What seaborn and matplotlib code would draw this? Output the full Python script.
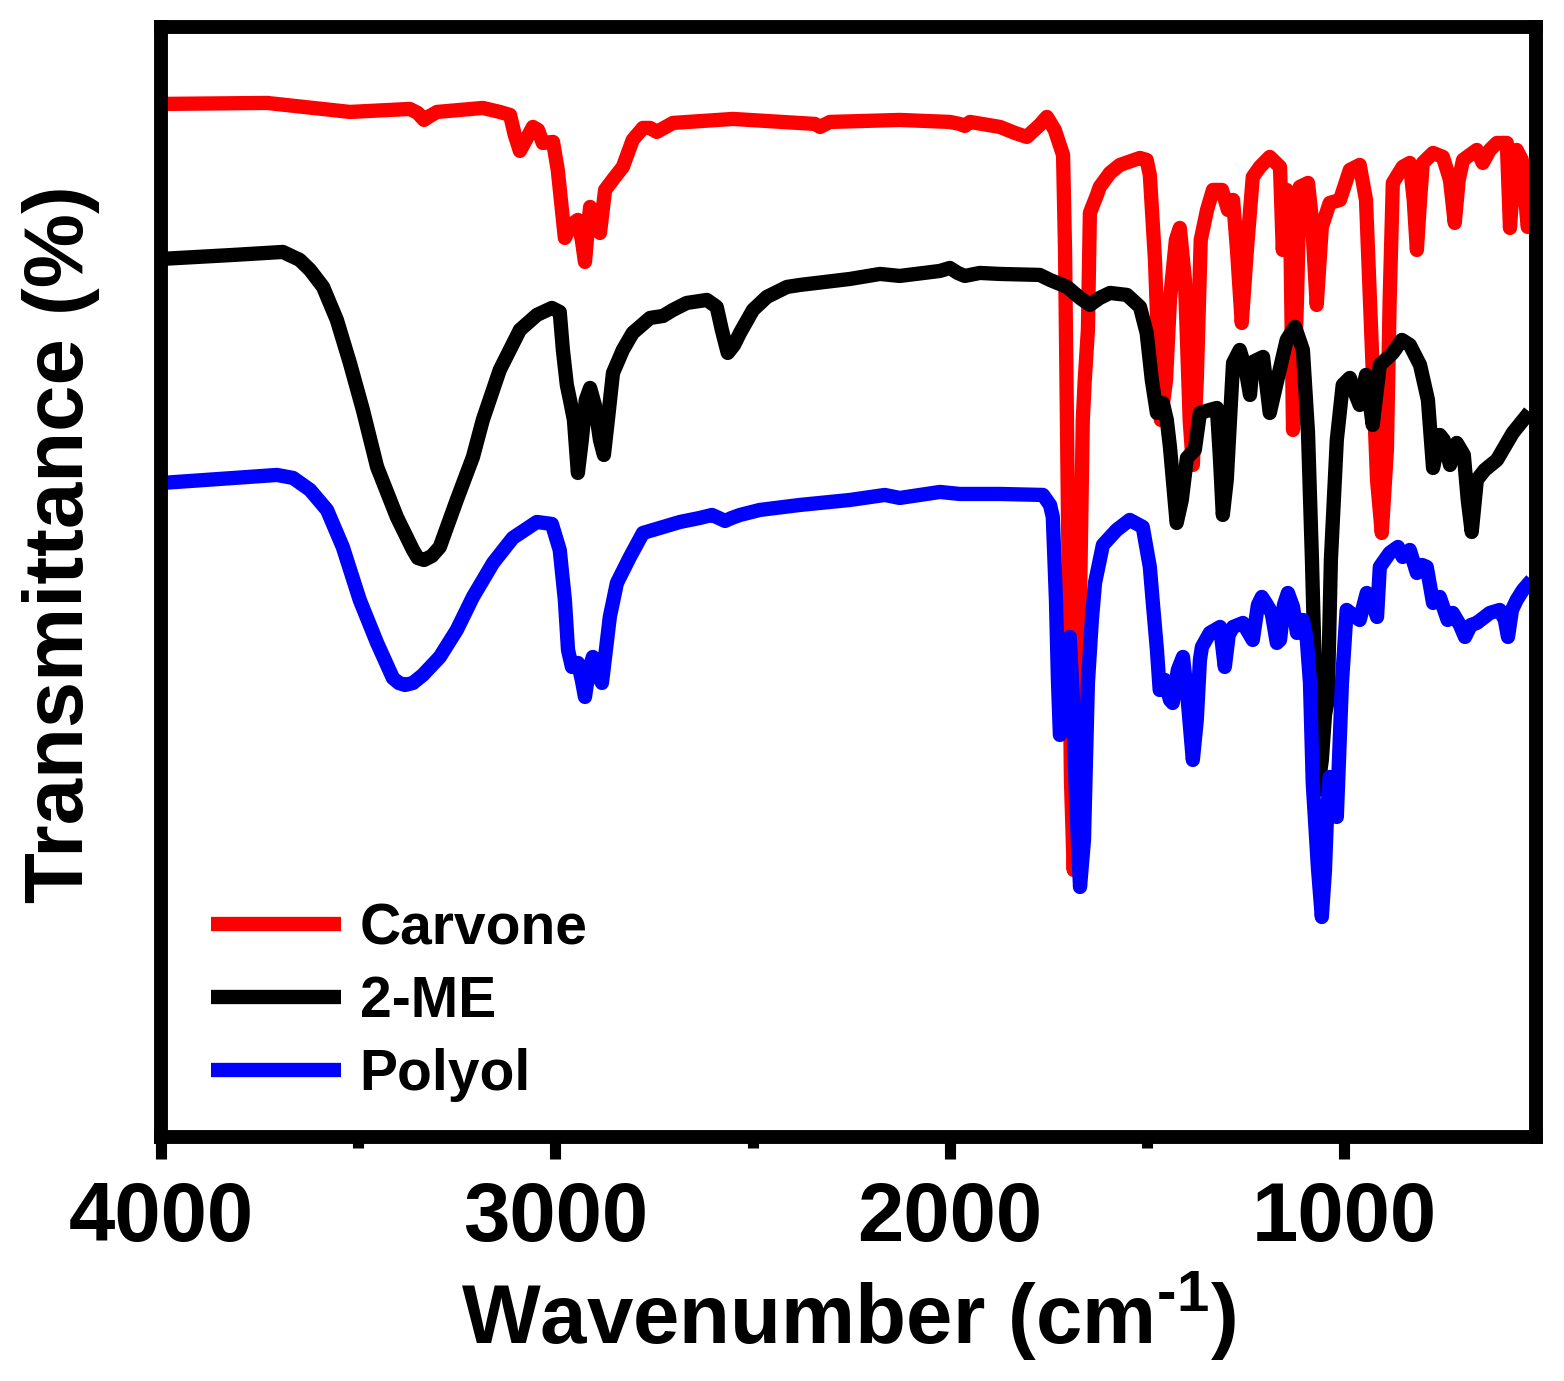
import matplotlib
matplotlib.use("Agg")
import matplotlib.pyplot as plt
import seaborn as sns

# FTIR spectra (wavenumber in cm-1, transmittance in arbitrary stacked units)
carvone_wn = [4000, 3731, 3521, 3369, 3349, 3333, 3318, 3300, 3184, 3141, 3115, 3103, 3090, 3075,
              3057, 3044, 3032, 3006, 2994, 2976, 2961, 2943, 2933, 2925, 2918, 2912, 2900, 2887,
              2874, 2849, 2829, 2804, 2778, 2760, 2743, 2702, 2550, 2380, 2342, 2329, 2304, 2127,
              2000, 1975, 1962, 1949, 1873, 1835, 1805, 1772, 1754, 1734, 1713, 1708, 1701, 1693,
              1686, 1678, 1670, 1663, 1658, 1650, 1645, 1627, 1620, 1594, 1569, 1518, 1501, 1493,
              1480, 1465, 1452, 1442, 1427, 1417, 1404, 1392, 1384, 1374, 1364, 1348, 1333, 1310,
              1295, 1282, 1272, 1260, 1247, 1232, 1214, 1189, 1163, 1156, 1146, 1138, 1130, 1120,
              1113, 1092, 1082, 1070, 1057, 1037, 1011, 986, 961, 945, 930, 917, 905, 892, 885,
              877, 852, 834, 824, 816, 808, 801, 775, 750, 732, 720, 710, 699, 664, 649, 631, 613,
              588, 580, 570, 563, 550, 535, 522]
carvone_t = [103.3, 103.4, 102.5, 102.8, 102.4, 101.7, 102.1, 102.5, 102.9, 102.5, 102.2, 100.2, 98.6, 99.7,
             101.0, 100.7, 99.4, 99.5, 96.7, 89.9, 91.2, 91.7, 89.7, 87.5, 90.7, 93.0, 92.2, 90.4,
             94.7, 96.0, 97.0, 99.7, 100.9, 100.9, 100.5, 101.4, 101.8, 101.4, 101.3, 101.0, 101.5, 101.7,
             101.5, 101.3, 101.1, 101.5, 101.0, 100.4, 100.0, 101.2, 102.0, 100.7, 98.2, 88.7, 63.7, 35.7,
             26.7, 37.7, 53.7, 71.7, 75.7, 80.7, 92.4, 94.2, 95.0, 96.4, 97.2, 97.9, 97.7, 96.2,
             87.7, 71.7, 75.7, 83.7, 89.7, 90.9, 85.7, 71.7, 67.2, 75.7, 89.7, 92.7, 94.7, 94.7,
             92.7, 93.7, 88.7, 81.4, 88.7, 96.0, 97.0, 98.0, 97.0, 88.7, 94.7, 93.7, 70.7, 83.7,
             95.0, 95.4, 91.7, 83.2, 91.0, 93.4, 93.7, 96.7, 97.2, 93.7, 78.7, 65.7, 60.4, 68.7, 83.7,
             95.4, 97.0, 97.4, 93.7, 88.7, 93.7, 97.4, 98.4, 98.0, 95.7, 91.4, 95.7, 97.7, 98.7, 97.4, 98.7, 99.4,
             99.4, 90.9, 96.7, 98.7, 97.7, 91.0, 93.7]

me_wn = [4000, 3817, 3691, 3648, 3622, 3589, 3554, 3521, 3488, 3452, 3402, 3361, 3349, 3333, 3313, 3293, 3250,
         3209, 3184, 3141, 3090, 3047, 3009, 2989, 2981, 2971, 2963, 2953, 2943, 2933, 2923, 2912,
         2900, 2887, 2877, 2867, 2854, 2829, 2804, 2760, 2727, 2702, 2667, 2616, 2591, 2578, 2563,
         2547, 2532, 2499, 2464, 2413, 2380, 2253, 2177, 2127, 2025, 2000, 1980, 1962, 1924, 1873,
         1772, 1746, 1703, 1670, 1645, 1620, 1594, 1551, 1518, 1501, 1488, 1475, 1460, 1450, 1442,
         1425, 1412, 1399, 1379, 1366, 1341, 1323, 1315, 1308, 1298, 1282, 1265, 1250, 1239, 1232,
         1206, 1189, 1171, 1146, 1125, 1105, 1092, 1082, 1074, 1067, 1057, 1049, 1042, 1034, 1019,
         1004, 986, 971, 961, 945, 928, 910, 877, 854, 834, 808, 788, 775, 758, 748, 732, 715, 697,
         687, 677, 664, 644, 613, 573, 530]
me_t = [87.8, 88.2, 88.5, 87.7, 86.7, 85.0, 81.7, 77.4, 72.7, 67.0, 62.0, 58.7, 57.9, 57.7, 58.1, 59.0, 63.7,
        68.0, 71.7, 76.7, 80.7, 82.2, 82.9, 82.5, 78.7, 75.2, 73.7, 71.7, 66.4, 69.7, 73.7, 74.9,
        73.2, 69.7, 68.2, 71.7, 76.4, 78.7, 80.4, 81.9, 82.1, 82.7, 83.4, 83.7, 83.0, 80.7, 78.4,
        79.2, 80.4, 82.7, 84.0, 85.0, 85.2, 85.8, 86.3, 86.1, 86.6, 86.9, 86.4, 86.1, 86.4, 86.3,
        86.2, 85.7, 85.0, 83.9, 83.2, 83.9, 84.4, 84.2, 83.0, 80.4, 75.7, 72.4, 73.4, 71.7, 69.0,
        61.4, 63.7, 67.9, 68.7, 72.4, 72.7, 72.9, 67.7, 62.2, 65.7, 77.4, 78.7, 76.7, 74.2, 77.5,
        78.0, 72.4, 75.5, 79.7, 81.0, 78.7, 70.4, 57.7, 45.7, 34.7, 37.7, 42.2, 43.7, 57.7, 69.7,
        75.2, 75.9, 74.2, 73.2, 76.2, 71.2, 77.2, 78.4, 79.7, 79.2, 77.2, 73.7, 66.9, 70.2, 69.7, 67.2, 69.4, 68.2,
        63.7, 60.5, 65.7, 66.7, 67.7, 70.4, 72.5]

polyol_wn = [3997, 3817, 3706, 3665, 3622, 3579, 3539, 3496, 3452, 3412, 3397, 3381, 3361, 3336, 3293, 3250, 3209,
             3158, 3108, 3047, 3009, 2989, 2976, 2968, 2958, 2943, 2933, 2925, 2915, 2905, 2892, 2882,
             2872, 2862, 2844, 2811, 2778, 2727, 2684, 2634, 2603, 2586, 2570, 2553, 2532, 2482, 2380,
             2253, 2165, 2127, 2025, 1975, 1873, 1764, 1746, 1739, 1731, 1726, 1721, 1711, 1703, 1696,
             1688, 1680, 1670, 1660, 1650, 1640, 1632, 1612, 1577, 1544, 1511, 1493, 1486, 1475, 1468,
             1455, 1442, 1435, 1422, 1409, 1397, 1384, 1374, 1366, 1361, 1341, 1315, 1303, 1293, 1282,
             1257, 1232, 1219, 1209, 1196, 1184, 1171, 1163, 1153, 1143, 1130, 1120, 1105, 1095, 1087,
             1080, 1067, 1057, 1049, 1044, 1037, 1027, 1019, 1006, 994, 978, 961, 943, 930, 917, 910,
             885, 864, 852, 834, 816, 803, 791, 775, 758, 738, 725, 707, 694, 679, 664, 631, 606, 593,
             585, 575, 563, 547, 525]
polyol_t = [65.4, 65.9, 66.2, 65.9, 64.7, 62.7, 59.0, 53.7, 49.4, 45.9, 45.4, 45.2, 45.4, 46.2, 48.0, 50.7, 54.0,
            57.4, 59.9, 61.5, 61.3, 58.7, 53.7, 48.7, 47.0, 47.4, 45.7, 44.0, 46.7, 48.0, 46.2, 45.4,
            48.7, 52.0, 55.4, 58.0, 60.4, 61.0, 61.5, 61.9, 62.2, 61.9, 61.6, 61.9, 62.2, 62.7, 63.2,
            63.7, 64.2, 63.9, 64.5, 64.3, 64.3, 64.2, 63.2, 62.0, 53.7, 45.7, 40.2, 41.7, 45.4, 50.0,
            43.7, 33.7, 25.0, 29.7, 45.4, 51.7, 55.4, 59.2, 60.7, 61.7, 61.0, 57.0, 53.7, 48.7, 44.7,
            45.7, 43.7, 43.4, 46.7, 48.0, 43.7, 37.7, 41.7, 47.7, 49.0, 50.4, 51.0, 47.0, 50.2, 51.0,
            51.4, 49.7, 53.2, 54.0, 53.2, 52.4, 49.4, 49.7, 53.2, 54.4, 53.0, 50.4, 51.7, 49.7, 45.4,
            35.4, 27.0, 22.0, 26.7, 32.0, 36.0, 33.7, 32.0, 45.4, 52.7, 52.2, 51.7, 54.4, 53.7, 52.0, 57.0,
            58.4, 59.0, 58.0, 58.7, 56.4, 57.2, 57.0, 53.4, 54.0, 51.7, 52.4, 51.2, 50.0, 51.2, 51.4, 52.4, 52.7, 51.7,
            50.0, 52.7, 53.7, 54.7, 55.7]

labels = ["Carvone", "2-ME", "Polyol"]
colors = ["#ff0000", "#000000", "#0000ff"]

sns.set_theme(style="white")
plt.rcParams["font.family"] = ["Liberation Sans", "DejaVu Sans"]
plt.rcParams["font.weight"] = "bold"
plt.rcParams["text.color"] = "black"
plt.rcParams["axes.labelcolor"] = "black"
plt.rcParams["xtick.color"] = "black"
plt.rcParams["mathtext.fontset"] = "custom"
plt.rcParams["mathtext.bf"] = "Liberation Sans:bold"
plt.rcParams["mathtext.rm"] = "Liberation Sans:bold"

fig = plt.figure(figsize=(15.64, 13.81), dpi=100)
ax = fig.add_axes([0.1029, 0.1767, 0.8792, 0.8038])

series = [(carvone_wn, carvone_t), (me_wn, me_t), (polyol_wn, polyol_t)]
for (wn, t), lab, col in zip(series, labels, colors):
    sns.lineplot(x=wn, y=t, color=col, linewidth=10.3, label=lab, ax=ax,
                 sort=False, estimator=None)

for line in ax.get_lines():
    line.set_linewidth(10.3)
    line.set_solid_capstyle("butt")
    line.set_solid_joinstyle("round")

ax.set_xlim(4000, 514)
ax.set_ylim(0, 111)
ax.set_xticks([4000, 3000, 2000, 1000])
ax.set_xticks([3500, 2500, 1500], minor=True)
ax.set_yticks([])
ax.tick_params(axis="x", which="major", direction="out", length=16, width=8,
               pad=15, labelsize=60, colors="black", bottom=True, top=False)
ax.tick_params(axis="x", which="minor", direction="out", length=8, width=8,
               bottom=True, top=False)
for lbl in ax.get_xticklabels():
    lbl.set_fontweight("bold")

for s in ax.spines.values():
    s.set_visible(True)
    s.set_linewidth(10)
    s.set_color("black")

ax.set_xlabel(r"Wavenumber (cm$^{\text{-1}}$)", fontsize=60, fontweight="bold",
              labelpad=8, color="black")
ax.set_ylabel("Transmittance (%)", fontsize=60, fontweight="bold", color="black")
ax.yaxis.set_label_coords(-0.0444, 0.534)

leg = ax.legend(loc="lower left", bbox_to_anchor=(0.0364, 0.0315), frameon=False,
                prop={"weight": "bold", "size": 41}, handlelength=2.28, handletextpad=0.33,
                labelspacing=0.33, borderpad=0, borderaxespad=0)
for h in leg.get_lines():
    h.set_linewidth(10.3)
    h.set_solid_capstyle("butt")
for txt in leg.get_texts():
    txt.set_color("black")

fig.savefig("out.png", dpi=100)
